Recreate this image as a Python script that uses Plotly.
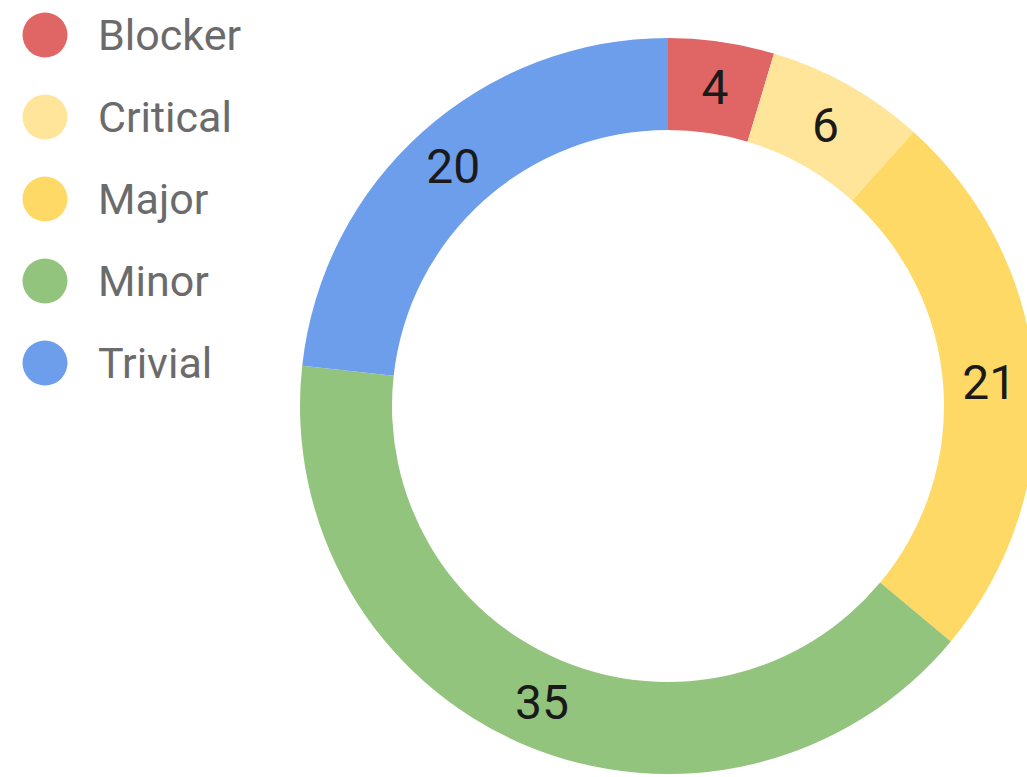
import plotly.graph_objects as go

# Data
priorities = ["Blocker", "Critical", "Major", "Minor", "Trivial"]
counts = [4, 6, 21, 35, 20]
colors = ["#e06666", "#ffe599", "#ffd966", "#93c47d", "#6d9eeb"]

W, H = 1060, 800

fig = go.Figure()

# Donut
fig.add_trace(go.Pie(
    labels=priorities,
    values=counts,
    sort=False,
    direction="clockwise",
    rotation=0,
    hole=0.75,
    marker=dict(colors=colors, line=dict(width=0)),
    textinfo="value",
    textposition="inside",
    insidetextorientation="horizontal",
    textfont=dict(family="Roboto", size=48, color="#1a1a1a"),
    domain=dict(x=[300 / W, 1036 / W], y=[1 - 774 / H, 1 - 38 / H]),
    showlegend=False,
))

# Legend drawn by hand (big round markers)
leg_y = [35 + 82 * i for i in range(len(priorities))]
fig.add_trace(go.Scatter(
    x=[45] * len(priorities),
    y=leg_y,
    mode="markers",
    marker=dict(size=45, color=colors, line=dict(width=0)),
    showlegend=False,
    hoverinfo="skip",
))
for name, y in zip(priorities, leg_y):
    fig.add_annotation(x=96, y=y, xref="x", yref="y", text=name, showarrow=False,
                       xanchor="left", yanchor="middle",
                       font=dict(family="Roboto", size=43, color="#6b6b6b"))

fig.update_xaxes(range=[0, W], visible=False, fixedrange=True)
fig.update_yaxes(range=[H, 0], visible=False, fixedrange=True)

fig.update_layout(
    width=W, height=H,
    margin=dict(l=0, r=0, t=0, b=0),
    paper_bgcolor="white",
    plot_bgcolor="rgba(0,0,0,0)",
    font=dict(family="Roboto"),
)

fig.write_html("out.html", config={"displayModeBar": False},
               post_script="document.body.style.margin='0';document.body.style.overflow='hidden';")
